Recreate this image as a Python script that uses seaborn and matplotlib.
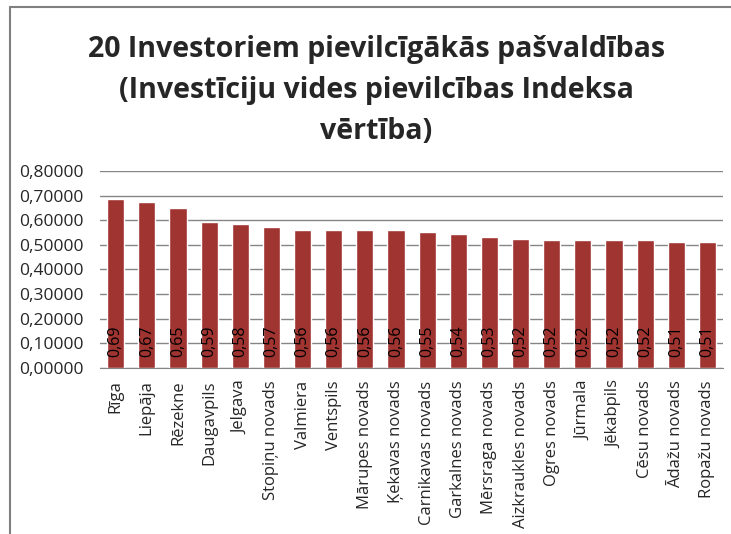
import pandas as pd
import seaborn as sns
import matplotlib.pyplot as plt
from matplotlib.lines import Line2D

# values
municipalities = ["Rīga", "Liepāja", "Rēzekne", "Daugavpils", "Jelgava",
                  "Stopiņu novads", "Valmiera", "Ventspils", "Mārupes novads",
                  "Ķekavas novads", "Carnikavas novads", "Garkalnes novads",
                  "Mērsraga novads", "Aizkraukles novads", "Ogres novads",
                  "Jūrmala", "Jēkabpils", "Cēsu novads", "Ādažu novads",
                  "Ropažu novads"]
index_values = [0.686, 0.672, 0.648, 0.593, 0.584, 0.572, 0.560, 0.560, 0.560,
                0.560, 0.551, 0.543, 0.533, 0.524, 0.520, 0.520, 0.520, 0.520,
                0.510, 0.510]
y_ticks = [0.0, 0.1, 0.2, 0.3, 0.4, 0.5, 0.6, 0.7, 0.8]

df = pd.DataFrame({"Pasvaldiba": municipalities, "Indekss": index_values})

sns.set_style("white")
plt.rcParams["font.family"] = ["Open Sans", "DejaVu Sans"]

fig = plt.figure(figsize=(7.31, 5.34), dpi=100)
ax = fig.add_axes([0.137, 0.311, 0.852, 0.369])

sns.barplot(data=df, x="Pasvaldiba", y="Indekss", color="#A03430",
            saturation=1, width=0.55, ax=ax)

ax.set_ylim(0, 0.8)
ax.set_yticks(y_ticks)
ax.set_yticklabels([f"{t:.5f}".replace(".", ",") for t in y_ticks], fontsize=12.5)
ax.grid(axis="y", color="#858585", linewidth=1)
ax.set_axisbelow(True)
ax.set_xlim(-0.5, len(municipalities) - 0.5)
ax.tick_params(axis="x", labelrotation=90, labelsize=12, length=0, pad=9)
ax.tick_params(axis="y", length=0, pad=12)
ax.set_xlabel("")
ax.set_ylabel("")
for s in ["top", "right", "left"]:
    ax.spines[s].set_visible(False)
ax.spines["bottom"].set_color("#858585")

# value labels inside the bars, at the bottom
for i, v in enumerate(index_values):
    ax.text(i, 0.045, f"{v:.2f}".replace(".", ","), rotation=90,
            ha="center", va="bottom", fontsize=11.5, color="black")

fig.suptitle("20 Investoriem pievilcīgākās pašvaldības\n"
             "(Investīciju vides pievilcības Indeksa\nvērtība)",
             y=0.935, fontsize=20.5, fontweight="bold", linespacing=1.55,
             x=0.515)

# chart frame (left and top edges visible in the crop)
fig.add_artist(Line2D([0.013, 0.013], [0.0, 0.987], color="#808080", lw=1.5))
fig.add_artist(Line2D([0.013, 1.0], [0.987, 0.987], color="#808080", lw=1.5))

fig.savefig("out.png", dpi=100)
